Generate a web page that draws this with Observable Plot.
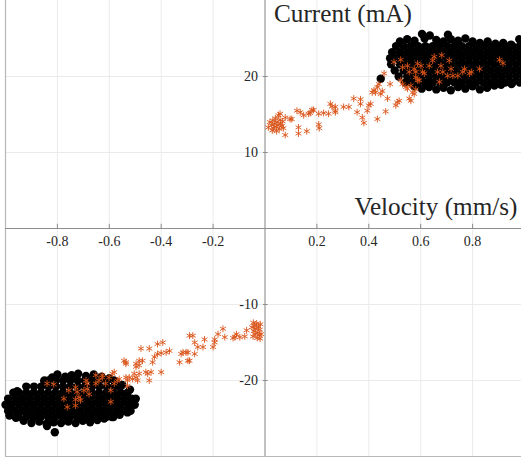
<!DOCTYPE html>
<html><head><meta charset="utf-8">
<script src="https://cdn.jsdelivr.net/npm/d3@7"></script>
<script src="https://cdn.jsdelivr.net/npm/@observablehq/plot@0.6"></script>
<style>
body{margin:0;background:#fff}
svg{display:block}
</style>
</head><body><div id="chart"></div>
<script>
const xTicks = [-0.8, -0.6, -0.4, -0.2, 0.2, 0.4, 0.6, 0.8];
const xTickLabels = ["-0.8", "-0.6", "-0.4", "-0.2", "0.2", "0.4", "0.6", "0.8"];
const yTicks = [-20, -10, 10, 20];
const yTickLabels = ["-20", "-10", "10", "20"];
const xLabel = "Velocity (mm/s)";
const yLabel = "Current (mA)";

// black cloud, upper right: interior rows (y with x positions) + ragged edge points
const blackUpperRowY = [24.0, 23.2, 22.4, 21.6, 20.8, 20.0, 19.2];
const blackUpperRowX = [
  [0.505, 0.534, 0.562, 0.59, 0.618, 0.646, 0.674, 0.702, 0.73, 0.758, 0.786, 0.814, 0.842, 0.87, 0.898, 0.926, 0.954, 0.982, 1.01],
  [0.49, 0.52, 0.548, 0.576, 0.604, 0.632, 0.66, 0.688, 0.716, 0.744, 0.772, 0.80, 0.828, 0.856, 0.884, 0.912, 0.94, 0.968, 0.996],
  [0.482, 0.506, 0.534, 0.562, 0.59, 0.618, 0.646, 0.674, 0.702, 0.73, 0.758, 0.786, 0.814, 0.842, 0.87, 0.898, 0.926, 0.954, 0.982, 1.01],
  [0.486, 0.52, 0.548, 0.576, 0.604, 0.632, 0.66, 0.688, 0.716, 0.744, 0.772, 0.80, 0.828, 0.856, 0.884, 0.912, 0.94, 0.968, 0.996],
  [0.50, 0.534, 0.562, 0.59, 0.618, 0.646, 0.674, 0.702, 0.73, 0.758, 0.786, 0.814, 0.842, 0.87, 0.898, 0.926, 0.954, 0.982, 1.01],
  [0.515, 0.548, 0.576, 0.604, 0.632, 0.66, 0.688, 0.716, 0.744, 0.772, 0.80, 0.828, 0.856, 0.884, 0.912, 0.94, 0.968, 0.996],
  [0.54, 0.562, 0.59, 0.618, 0.646, 0.674, 0.702, 0.73, 0.758, 0.786, 0.814, 0.842, 0.87, 0.898, 0.926, 0.954, 0.982]
];
const blackUpperEdge = [
  [0.52,24.6],[0.548,24.9],[0.576,24.7],[0.605,25.6],[0.615,25.0],[0.635,25.4],[0.66,24.8],[0.688,24.6],
  [0.705,25.5],[0.716,24.9],[0.744,24.7],[0.772,25.0],[0.80,24.6],[0.828,24.4],[0.858,24.6],[0.888,24.3],
  [0.918,24.4],[0.948,24.2],[0.98,24.9],[1.005,24.6],
  [0.575,18.7],[0.604,18.4],[0.632,18.6],[0.66,18.3],[0.688,18.5],[0.716,18.2],[0.744,18.6],[0.772,18.4],
  [0.80,18.7],[0.828,18.3],[0.856,18.5],[0.884,18.8],[0.91,18.9],[0.95,19.0],
  [0.446,19.7]
];

// black cloud, lower left
const blackLowerRowY = [-20.0, -20.8, -21.6, -22.4, -23.2, -24.0, -24.8];
const blackLowerRowX = [
  [-0.85, -0.834, -0.806, -0.778, -0.75, -0.722, -0.694, -0.666, -0.638, -0.61, -0.582],
  [-0.92, -0.89, -0.862, -0.834, -0.806, -0.778, -0.75, -0.722, -0.694, -0.666, -0.638, -0.61, -0.582, -0.56],
  [-0.97, -0.948, -0.92, -0.892, -0.864, -0.836, -0.808, -0.78, -0.752, -0.724, -0.696, -0.668, -0.64, -0.612, -0.584, -0.556, -0.53],
  [-0.99, -0.962, -0.934, -0.906, -0.878, -0.85, -0.822, -0.794, -0.766, -0.738, -0.71, -0.682, -0.654, -0.626, -0.598, -0.57, -0.542, -0.514, -0.498],
  [-1.0, -0.976, -0.948, -0.92, -0.892, -0.864, -0.836, -0.808, -0.78, -0.752, -0.724, -0.696, -0.668, -0.64, -0.612, -0.584, -0.556, -0.528, -0.502],
  [-0.99, -0.962, -0.934, -0.906, -0.878, -0.85, -0.822, -0.794, -0.766, -0.738, -0.71, -0.682, -0.654, -0.626, -0.598, -0.57, -0.542, -0.518],
  [-0.95, -0.92, -0.892, -0.864, -0.836, -0.808, -0.78, -0.752, -0.724, -0.696, -0.668, -0.64, -0.612, -0.584]
];
const blackLowerEdge = [
  [-0.85,-20.1],[-0.82,-19.6],[-0.80,-19.2],[-0.77,-19.5],[-0.745,-19.3],[-0.72,-19.1],[-0.69,-19.4],
  [-0.66,-19.2],[-0.63,-19.5],[-0.60,-19.7],[-0.575,-20.1],[-0.55,-20.6],[-0.52,-21.2],
  [-0.96,-24.9],[-0.93,-25.3],[-0.90,-25.6],[-0.87,-25.4],[-0.842,-25.7],[-0.814,-25.5],[-0.786,-25.6],
  [-0.758,-25.4],[-0.73,-25.6],[-0.702,-25.3],[-0.674,-25.5],[-0.646,-25.2],[-0.62,-25.0],[-0.59,-24.8],
  [-0.56,-24.5],[-0.53,-24.2],
  [-0.84,-26.0],[-0.81,-26.8],[-0.985,-24.6],[-0.955,-21.4]
];

// orange asterisks, upper trajectory
const orangeUpper = [
  [0.013,13.3],[0.019,14.0],[0.026,13.6],[0.03,14.2],[0.033,13.2],[0.036,13.8],[0.04,14.5],[0.043,13.4],
  [0.046,14.0],[0.05,13.6],[0.052,14.9],[0.055,13.1],[0.058,14.3],[0.06,13.8],[0.065,13.5],[0.068,14.1],
  [0.071,13.2],[0.028,12.9],[0.045,12.8],
  [0.058,15.1],[0.078,14.6],[0.078,12.3],[0.097,14.4],[0.103,14.4],[0.123,15.5],[0.136,15.3],[0.149,14.9],
  [0.129,13.3],[0.129,12.5],[0.161,12.8],[0.168,15.1],[0.174,15.2],[0.181,15.6],[0.187,15.6],[0.207,15.1],
  [0.207,13.7],[0.209,13.2],[0.226,15.2],[0.245,15.1],[0.252,16.4],[0.258,16.05],[0.271,16.0],[0.271,15.5],
  [0.271,15.3],[0.303,16.0],[0.323,16.0],[0.342,17.1],[0.355,15.3],[0.368,17.0],[0.368,16.4],[0.375,14.6],
  [0.381,13.9],[0.394,15.5],[0.400,16.2],[0.407,16.4],[0.413,17.9],[0.420,18.2],[0.426,17.9],[0.433,18.6],
  [0.433,14.4],[0.439,19.0],[0.446,17.7],[0.452,18.1],[0.459,20.4],[0.465,15.4],[0.472,17.1],[0.482,19.0],
  [0.504,16.2],[0.510,16.6],[0.517,16.8],[0.523,19.5],[0.530,19.0],[0.543,18.6],[0.549,18.4],[0.556,17.1],
  [0.562,16.8],[0.569,17.9],[0.575,17.7],[0.581,18.3],[0.581,20.6],[0.588,19.5],
  [0.497,21.9],[0.523,22.2],[0.530,21.2],[0.549,21.4],[0.556,20.6],[0.575,21.0],[0.581,19.9],[0.588,21.7],
  [0.594,19.5],[0.601,21.4],[0.607,20.6],[0.614,20.4],[0.633,21.4],[0.646,22.1],[0.652,22.6],[0.665,20.6],
  [0.672,19.3],[0.678,21.4],[0.681,22.8],[0.685,20.6],[0.704,20.1],[0.710,22.1],[0.717,21.0],[0.724,20.1],
  [0.743,20.1],[0.762,20.6],[0.769,21.0],[0.788,20.4],[0.795,20.6],[0.827,21.0],[0.904,22.2],[0.917,21.75],
  [0.562,18.8]
];

// orange asterisks, lower trajectory
const orangeLower = [
  [-0.018,-12.6],[-0.02,-13.3],[-0.022,-14.0],[-0.025,-12.9],[-0.028,-13.7],[-0.03,-14.4],[-0.032,-12.5],
  [-0.035,-13.2],[-0.038,-13.9],[-0.04,-12.8],[-0.043,-13.5],[-0.046,-14.2],[-0.05,-13.0],[-0.015,-13.9],
  [-0.019,-14.5],[-0.045,-12.4],
  [-0.071,-13.4],[-0.078,-14.2],[-0.097,-14.3],[-0.110,-13.9],[-0.116,-14.3],[-0.123,-14.4],[-0.162,-13.2],
  [-0.155,-14.3],[-0.181,-13.9],[-0.194,-14.6],[-0.194,-15.0],[-0.200,-15.6],[-0.233,-14.6],[-0.239,-15.6],
  [-0.259,-15.6],[-0.271,-15.0],[-0.278,-14.1],[-0.291,-14.1],[-0.271,-16.5],[-0.297,-16.3],[-0.304,-16.3],
  [-0.316,-16.3],[-0.323,-16.5],[-0.297,-17.4],[-0.291,-17.4],[-0.329,-17.6],[-0.368,-16.1],[-0.381,-16.3],
  [-0.394,-15.0],[-0.400,-16.4],[-0.414,-16.5],[-0.400,-18.9],[-0.414,-15.2],[-0.426,-16.9],[-0.433,-17.6],
  [-0.439,-18.9],[-0.446,-20.0],[-0.446,-15.8],[-0.452,-19.1],[-0.478,-15.8],[-0.472,-17.4],[-0.485,-17.4],
  [-0.485,-18.0],[-0.497,-17.8],[-0.497,-19.6],[-0.504,-19.1],[-0.491,-20.0],[-0.510,-19.8],[-0.530,-20.0],
  [-0.536,-17.6],[-0.543,-17.4],[-0.523,-19.6],[-0.530,-20.7],[-0.562,-19.8],[-0.569,-20.0],[-0.581,-18.9],
  [-0.588,-19.1],[-0.601,-19.6],[-0.627,-19.6],[-0.652,-19.3],[-0.581,-20.4],[-0.614,-20.4],[-0.685,-20.4],
  [-0.536,-19.6],[-0.485,-19.1],[-0.497,-18.2],[-0.536,-17.8],[-0.459,-18.9],
  [-0.840,-20.4],[-0.814,-20.5],[-0.756,-21.3],[-0.775,-22.4],[-0.762,-23.5],[-0.730,-20.9],[-0.724,-21.5],
  [-0.717,-22.2],[-0.711,-22.6],[-0.730,-22.5],[-0.698,-21.3],[-0.685,-21.1],[-0.678,-21.8],[-0.730,-23.3],
  [-0.690,-20.0],[-0.652,-20.4],[-0.640,-20.0],[-0.594,-22.8],[-0.594,-21.3],[-0.627,-19.3]
];

const rowsToPoints = (ys, xs) => ys.flatMap((y, i) => xs[i].map(x => ({x, y})));
const pairs = arr => arr.map(([x, y]) => ({x, y}));
const blackPoints = [
  ...rowsToPoints(blackUpperRowY, blackUpperRowX),
  ...pairs(blackUpperEdge),
  ...rowsToPoints(blackLowerRowY, blackLowerRowX),
  ...pairs(blackLowerEdge)
];
const orangePoints = pairs([...orangeUpper, ...orangeLower]);

const serif = "Liberation Serif, DejaVu Serif, serif";
const textColor = "#262626";
const gridColor = "#ebebeb";
const axisColor = "#8c8c8c";
const boxColor = "#b8b8b8";
const orange = "#D95319";

const chart = Plot.plot({
  width: 521,
  height: 459,
  margin: 0,
  x: {domain: [-1, 1], range: [5, 524], axis: null},
  y: {domain: [-30, 30], range: [456, 0], axis: null},
  marks: [
    Plot.ruleX([0, ...xTicks], {y1: -30, y2: 30, stroke: gridColor, strokeWidth: 1}),
    Plot.ruleY([0, ...yTicks], {x1: -1, x2: 1, stroke: gridColor, strokeWidth: 1}),
    Plot.ruleX([-1], {y1: -30, y2: 30, stroke: boxColor, strokeWidth: 1.2}),
    Plot.ruleY([-30], {x1: -1, x2: 1, stroke: boxColor, strokeWidth: 1.2}),
    Plot.ruleX([0], {y1: -30, y2: 30, stroke: axisColor, strokeWidth: 1}),
    Plot.ruleY([0], {x1: -1, x2: 1, stroke: axisColor, strokeWidth: 1}),
    Plot.ruleX(xTicks, {y1: 0, y2: 0.55, stroke: axisColor}),
    Plot.ruleY(yTicks, {x1: -0.006, x2: 0.012, stroke: axisColor}),
    Plot.dot(blackPoints, {x: "x", y: "y", r: 4.2, fill: "#000", stroke: null}),
    Plot.dot(orangePoints, {x: "x", y: "y", r: 3.2, symbol: "asterisk", stroke: orange, strokeWidth: 0.9}),
    Plot.text(xTicks, {x: d => d, y: 0, text: (d, i) => xTickLabels[i], dy: 13, fontSize: 14, fontFamily: serif, fill: textColor}),
    Plot.text(yTicks, {x: 0, y: d => d, text: (d, i) => yTickLabels[i], dx: -7, textAnchor: "end", fontSize: 14, fontFamily: serif, fill: textColor}),
    Plot.text([yLabel], {x: 0, y: 28.2, text: d => d, dx: 9, textAnchor: "start", fontSize: 22, fontFamily: serif, fill: textColor, className: "ttl-y"}),
    Plot.text([xLabel], {x: 1, y: 2.9, text: d => d, dx: -7, textAnchor: "end", fontSize: 22, fontFamily: serif, fill: textColor, className: "ttl-x"})
  ]
});
document.getElementById("chart").appendChild(chart);

// fit the two axis titles to the widths they take in the reference
const fitWidth = (cls, target) => {
  const t = chart.querySelector(`.${cls} text`);
  if (!t) return;
  const w = t.getComputedTextLength();
  if (w > 0) t.setAttribute("font-size", (22 * target / w).toFixed(2));
};
fitWidth("ttl-y", 138);
fitWidth("ttl-x", 163);
</script>
</body></html>
